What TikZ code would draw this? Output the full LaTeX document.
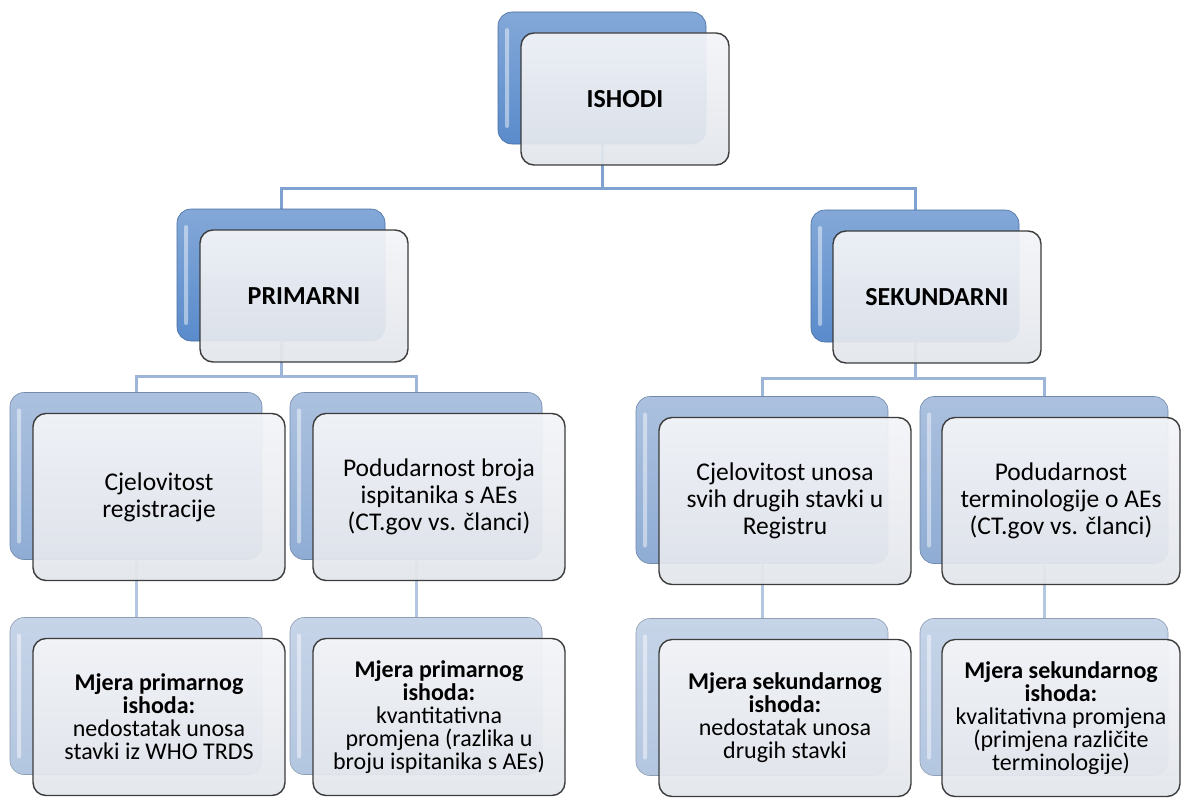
\documentclass[tikz,border=0pt]{standalone}
\usepackage{fontspec}
\setmainfont{Carlito}
\usepackage{tikz}
\usetikzlibrary{positioning,
                backgrounds,
                calc}
\definecolor{backA}{HTML}{5A8BCB}
\definecolor{backB}{HTML}{8FACD4}
\definecolor{backC}{HTML}{B3C6E0}
\definecolor{linkA}{HTML}{7FA2D1}
\definecolor{linkB}{HTML}{9DB5D9}
\definecolor{linkC}{HTML}{B4C7E2}
\definecolor{cardtop}{HTML}{F4F5F8}
\definecolor{cardbot}{HTML}{E3E6EB}
\definecolor{cardline}{HTML}{3C3C3C}

\begin{document}
\begin{tikzpicture}[
				x=1pt,y=-1pt,
				back card/.style={rectangle,rounded corners=14pt,inner sep=0pt,
					draw=#1!80!black,line width=.6pt,
					top color=#1!75,bottom color=#1,
					path picture={\fill[white,opacity=.45,rounded corners=2pt]
						([xshift=7pt,yshift=-16pt]path picture bounding box.north west) rectangle
						([xshift=11pt,yshift=16pt]path picture bounding box.south west);}},
				front card/.style={rectangle,rounded corners=13pt,inner sep=0pt,align=center,
					draw=cardline,line width=1.4pt,
					top color=cardtop,bottom color=cardbot,
					fill opacity=.93,text opacity=1},
				top size/.style={minimum width=208pt,minimum height=132pt},
				mid size/.style={minimum width=252pt,minimum height=167pt},
				low size/.style={minimum width=252pt,minimum height=157pt},
				top text/.style={font=\fontsize{26}{30}\selectfont\bfseries},
				mid text/.style={font=\fontsize{25.5}{27}\selectfont},
				low text/.style={font=\fontsize{24}{23}\selectfont},
				link/.style={draw=#1,line width=3pt}
				]
		  		\useasboundingbox (0,0) rectangle (1182,800);
		  		% level 0
		  		\node[back card=backA,top size] (ishodi back) at (602,78) {};
		  		\node[front card,top size,top text] (ishodi) at ([shift={(23,21)}]ishodi back) {ISHODI};
		  		% level 1
		  		\node[back card=backA,top size] (primarni back) at (281,275) {};
		  		\node[front card,top size,top text] (primarni) at ([shift={(23,21)}]primarni back) {PRIMARNI};
		  		\node[back card=backA,top size] (sekundarni back) at (915,276) {};
		  		\node[front card,top size,top text] (sekundarni) at ([shift={(22,21)}]sekundarni back) {SEKUNDARNI};
		  		% level 2
		  		\node[back card=backB,mid size] (cjel back) at (136,476) {};
		  		\node[front card,mid size,mid text] (cjel) at ([shift={(23,21)}]cjel back) {Cjelovitost\\registracije};
		  		\node[back card=backB,mid size] (broj back) at (416,476) {};
		  		\node[front card,mid size,mid text] (broj) at ([shift={(23,21)}]broj back) {Podudarnost broja\\ispitanika s AEs\\(CT.gov vs. članci)};
		  		\node[back card=backB,mid size] (stavke back) at (762,480) {};
		  		\node[front card,mid size,mid text] (stavke) at ([shift={(23,21)}]stavke back) {Cjelovitost unosa\\svih drugih stavki u\\Registru};
		  		\node[back card=backB,mid size,minimum width=248pt] (termin back) at (1044,480) {};
		  		\node[front card,mid size,mid text,minimum width=238pt] (termin) at ([shift={(17,21)}]termin back) {Podudarnost\\terminologije o AEs\\(CT.gov vs. članci)};
		  		% level 3
		  		\node[back card=backC,low size] (mjera a back) at (136,696) {};
		  		\node[front card,low size,low text] (mjera a) at ([shift={(23,21)}]mjera a back)
		  			{{\bfseries Mjera primarnog}\\{\bfseries ishoda:}\\nedostatak unosa\\stavki iz WHO TRDS};
		  		\node[back card=backC,low size] (mjera b back) at (416,696) {};
		  		\node[front card,low size,low text] (mjera b) at ([shift={(23,21)}]mjera b back)
		  			{{\bfseries Mjera primarnog}\\{\bfseries ishoda:}\\kvantitativna\\promjena (razlika u\\broju ispitanika s AEs)};
		  		\node[back card=backC,low size] (mjera c back) at (762,697) {};
		  		\node[front card,low size,low text] (mjera c) at ([shift={(23,21)}]mjera c back)
		  			{{\bfseries Mjera sekundarnog}\\{\bfseries ishoda:}\\nedostatak unosa\\drugih stavki};
		  		\node[back card=backC,low size,minimum width=248pt] (mjera d back) at (1044,697) {};
		  		\node[front card,low size,low text,minimum width=238pt] (mjera d) at ([shift={(17,21)}]mjera d back)
		  			{{\bfseries Mjera sekundarnog}\\{\bfseries ishoda:}\\kvalitativna promjena\\(primjena različite\\terminologije)};
		  		% connectors
		  		\begin{scope}[on background layer]
		  			\fill[white] (0,0) rectangle (1182,800);
		  			\draw[link=linkA] (ishodi back.south) -- ++(0,44) -| (primarni back.north);
		  			\draw[link=linkA] (ishodi back.south) -- ++(0,44) -| (sekundarni back.north);
		  			\draw[link=linkB] (primarni back.south) -- ++(0,35) -| (cjel back.north);
		  			\draw[link=linkB] (primarni back.south) -- ++(0,35) -| (broj back.north);
		  			\draw[link=linkB] (sekundarni back.south) -- ++(0,36) -| (stavke back.north);
		  			\draw[link=linkB] (sekundarni back.south) -- ++(0,36) -| (termin back.north);
		  			\draw[link=linkC] (cjel back.south) -- (mjera a back.north);
		  			\draw[link=linkC] (broj back.south) -- (mjera b back.north);
		  			\draw[link=linkC] (stavke back.south) -- (mjera c back.north);
		  			\draw[link=linkC] (termin back.south) -- (mjera d back.north);
		  		\end{scope}
		\end{tikzpicture}
\end{document}
